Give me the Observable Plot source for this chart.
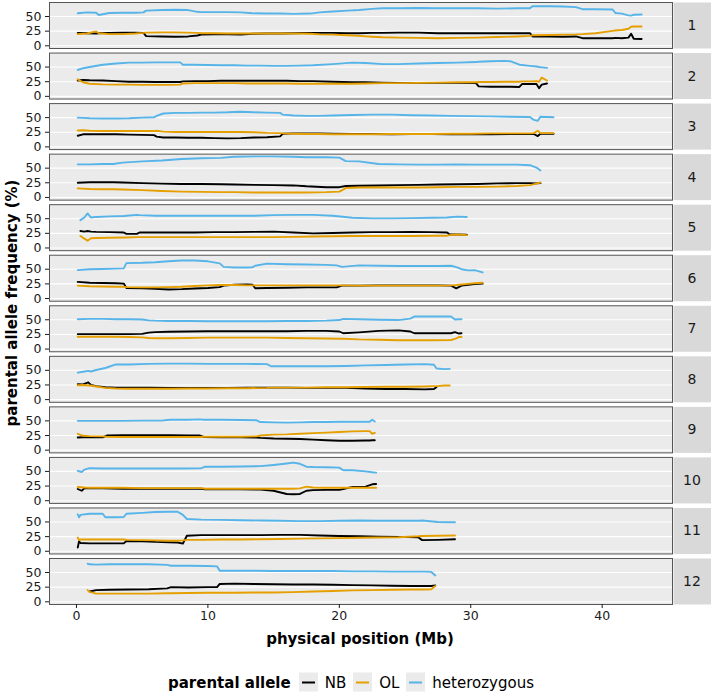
<!DOCTYPE html>
<html>
<head>
<meta charset="utf-8">
<script src="https://cdn.jsdelivr.net/npm/d3@7"></script>
<script src="https://cdn.jsdelivr.net/npm/@observablehq/plot@0.6"></script>
<style>
  html, body { margin: 0; padding: 0; background: #ffffff; }
  #wrap { position: relative; width: 711px; height: 695px; font-family: "DejaVu Sans", sans-serif; color: #1a1a1a; }
  #chart svg { display: block; }
  .ytitle { position: absolute; left: 12px; top: 303px; transform: translate(-50%, -50%) rotate(-90deg); font-weight: bold; font-size: 15px; white-space: nowrap; color: #000; }
  .xtitle { position: absolute; left: 360px; top: 639px; transform: translate(-50%, -50%); font-weight: bold; font-size: 15px; white-space: nowrap; color: #000; }
  .legend { position: absolute; left: 168px; top: 682px; transform: translateY(-50%); display: flex; align-items: center; font-size: 15px; white-space: nowrap; color: #000; }
  .legend .ltitle { font-weight: bold; margin-right: 8px; }
  .legend .key { width: 19px; height: 19px; background: #ebebeb; position: relative; margin-right: 7px; }
  .legend .key span { position: absolute; left: 3px; right: 3px; top: 8.5px; height: 2px; }
  .legend .lab { margin-right: 7px; }
</style>
</head>
<body>
<div id="wrap">
  <div id="chart"></div>
  <div class="ytitle">parental allele frequency (%)</div>
  <div class="xtitle">physical position (Mb)</div>
  <div class="legend" id="legend"></div>
</div>
<script>
// ---------- data ----------
const chromosomes = ["1","2","3","4","5","6","7","8","9","10","11","12"];
const alleles = ["NB", "OL", "heterozygous"];
const alleleColors = ["#000000", "#E69F00", "#56B4E9"];
const legendTitle = "parental allele";
const xTicks = [0, 10, 20, 30, 40];
const yTicks = [0, 25, 50];

const pos1 = [0.1,0.8,1.5,1.7,2.5,3.5,4.5,5.1,5.3,6.5,7.5,8.5,9.2,9.5,10.5,11.5,12.5,13.4,14.5,15.5,16.5,17.8,18.5,19.5,20.6,21.5,22.5,23.3,24.5,26,27.5,29,30.5,32,33.5,34.5,34.7,36,37,38,38.5,39.5,40.8,41,41.5,42,42.2,42.4,43];
const het1 = [55.6,57,56.5,52.5,56,56.5,56.5,57,60,61,61.5,61,58,57.5,57.5,57.5,57,55.5,55,55,54.5,55,57,58.5,60,61,63,64,64,64.5,64,64,64,63.5,64,64,67.5,67.5,67,66,62.5,62.5,62,56,55,52,51.5,53,53.5];
const nb1  = [22,21.5,21,21.5,22,22.5,22.5,22,16.5,16,15.5,16,17.5,19,19.5,19.5,19,20.5,21,21,21.5,22,22,22,21.5,21.5,22,22,22.5,22.5,21.5,21.5,21.5,21.5,21.5,21.5,16,16,15.5,16,13,13,13,13.5,13,14,20.5,12,11.5];
const ol1  = [20,21,24.5,21.5,20,20,21,22,22.5,23,23,22.5,22,21.5,21.5,21,21,21,21,21,21,20.5,19.5,19,18,17,15.5,14.5,14,13.5,13,13.5,14,15,16,17,18,18.5,19,19.5,20,21.5,25.5,26,27,29,32.5,33,33];

const pos2 = [0.1,0.5,1,2,3,4,5,6,7,7.9,8.1,9,10,11,12,13,14,15,16,17,18,19.5,21,22,23.3,24.5,26,27.5,29,30.4,30.6,31.5,32.5,33,33.7,33.9,34.5,35,35.2,35.4,35.8];
const het2 = [45,48,50,54,56,57.5,57.5,58,58,58,54,54,53.5,53,53,52.5,52.5,52,52,52.5,53,55,57.5,57,55,55,56,57,57.5,58.5,59,60,60.5,60,54,53.5,52,51,50,49.5,48.5];
const nb2  = [27,28,27.5,27,26,25,25,24.5,24.5,24.5,25.5,26,26,26.5,26.5,26.5,26.5,26.5,26.5,26,26,25,24,24,23.5,23,23,23,23,22.5,17,16.5,16.5,16.5,16,21,21,21,14,20,22];
const ol2  = [29,24,21.5,20.5,20,20,19.5,19.5,19.5,20,22,22.5,22.5,22.5,22.5,22,22,22,22,21.5,21.5,21.5,21.5,22,22.5,22.5,23,23.5,24,24,24.5,24.5,25,25,25,25.5,25.5,26,25,32,27];

const pos3 = [0.1,0.5,1,2,3,4,5,5.9,6.1,6.6,7.5,8.5,9.5,10.5,11.5,12.5,13.5,14.5,15.5,15.7,16.5,17.5,18.5,19.5,21,22.5,24,25.5,27,28.5,30,31.5,33,34.5,34.8,35.1,35.3,36.3];
const het3 = [50,49.5,49,48.5,48.5,49,50,50.5,53,57,58,58,58.5,58.5,59,60,59,58.5,58,55,53.5,53,53,53.5,54.5,55,55,54,53.5,53,52.5,52,51.5,51,46,44.5,51.5,50.5];
const nb3  = [19,21.5,21.5,21.5,21.5,21,20.5,20,17.5,16,16,15.5,15.5,15,14.5,15,16,16.5,18,22.5,23,23,23,22.5,22,22,21.5,22,22,21.5,21.5,21.5,22,22,22,18.5,22.5,22.5];
const ol3  = [28,28.5,27.5,27,27,27,27,27,27.5,26,25.5,25.5,25.5,25.5,25.5,25.5,25,24,23.5,23,22.5,22,22,21.5,21.5,21.5,22,22,22,22.5,22.5,23,23,23,23.5,27.5,23.5,23.5];

const pos4 = [0.1,1,2,2.8,3.5,5,6.5,8,9.5,11,12,13.5,15,16.5,17.5,19,20,20.5,21.5,23,24.5,26,27.5,29,30.5,32,33.5,34.5,35,35.3];
const het4 = [56.5,56.5,57,57,59.5,61.5,63,65.5,67,67.5,69.5,70,70,69.5,68.5,68.5,68,62,61.5,57,56.5,56,56,56.5,56,56,56,55,51,46];
const nb4  = [25,26,26,26,25.5,24.5,23.5,23,23,22.5,22,21.5,21,20.5,19,17.5,17.5,19.5,20,20.5,21,21.5,22,22.5,23,24,24.5,24.5,24,24.5];
const ol4  = [15.5,14.5,14,14,13.5,12.5,11,10,9.5,9,9,8.5,8.5,8.5,8.5,9,10,16,17,17,17,17,17.5,18,18,18.5,19.5,21,23.5,25.5];

const pos5 = [0.3,0.6,0.85,1.1,1.5,2.5,3.6,3.8,4.6,4.8,6,7.5,9,10.5,12,13.5,15,16.5,18,19.5,21,22.5,24,25.5,27,28.2,28.4,29,29.7];
const het5 = [47.5,52,59,52,53,54,54.5,55,56.5,56,55,55,55,55,55,55,56,56.5,56.5,55,51.5,50.5,50.5,51,51.5,52,52.5,53.5,53];
const nb5  = [29,28,29,28,27.5,27,26.5,24,24,26.5,26.5,26.5,26.5,27,27,27.5,28,26.5,25,25.5,26.5,27,27,27.5,27,26.5,23,23,22.5];
const ol5  = [20.5,16,12.5,16.5,17,17.5,18,18,18.5,18.5,18.5,18.5,18.5,18.5,18.5,18.5,18.5,19,19.5,20,20.5,20.5,20.5,20.5,21,21,22,23,22];

const pos6 = [0.1,1,2,3,3.6,3.8,5,6,7,8,9,10,10.9,11.2,12,13,13.4,13.6,14.5,16,17.5,19,19.8,20.2,21.5,23,24.5,26,27.5,28.5,28.9,29.3,29.8,30.3,30.9];
const het6 = [48.5,50,50.5,51,51.5,60.5,61,62,63.5,65,65,63.5,60,54,53,53,53.5,56,59.5,58.5,58,57.5,56.5,54,56.5,56,55.5,55.5,55.5,56,53.5,50,48,48.5,44.5];
const nb6  = [28.5,27,26.5,26,25.5,18,17.5,16.5,15.5,16,17,18,19.5,22,23.5,24,23.5,17.5,18,18.5,19,19,19,22,22,22.5,22.5,22.5,22.5,22,17.5,22,23.5,24.5,25.5];
const ol6  = [22,21,20.5,20,20,19.5,19,19,19.5,20,21.5,22.5,23,23,23,22.5,22.5,22.5,22.5,22.5,22.5,22.5,22.5,22.5,22,22,22,22,22,22.5,23,24,25,26,27];

const pos7 = [0.1,1,2,3,4,5,5.5,6,7,8.5,10,11.5,13,14.5,16,17.5,19,20,20.3,21.5,23,24.5,25.4,25.7,27,28.5,28.8,29.1,29.3];
const het7 = [51,51.5,51.5,51,51,50.5,49,48.5,48,48,47.5,47.5,47.5,47.5,48,48,48.5,49.5,51.5,51,50,49.5,52,55.5,55.5,55.5,50.5,51,51];
const nb7  = [25.5,25.5,25.5,25.5,25.5,26,28,29,29.5,30,30.5,30.5,30.5,30.5,30.5,31,31,30,27,28.5,31,32,30,27,27,27,29,26.5,27];
const ol7  = [21,21,21,21,20.5,20,19,18.5,18.5,19,19.5,19.5,19.5,19.5,19,18.5,18,17.5,17.5,16.5,16,15,15,15,15,15.5,17.5,20.5,20.5];

const pos8 = [0.1,0.5,0.9,1.1,1.5,2.2,3,4,5.5,7,8.5,10,11.5,13,14.5,14.8,16,17.5,19,20.5,22,23.5,25,26.5,27.2,27.4,28,28.4];
const het8 = [46,47.5,49,48,50.5,54,60,60,61,61.5,61.5,61,61,61,60.5,57,57,57,57,57.5,58.5,59,60,60.5,59.5,53,52,52.5];
const nb8  = [26.5,26,29.5,25,23,21,20.5,20.5,20.5,20,20,20,20,20.5,20.5,20.5,20.5,20,20,20,19,18,18,17.5,18,21.5,null,null];
const ol8  = [24.5,25,24,24,22.5,20,19,18.5,18.5,18.5,19,19,19.5,19.5,20,20.5,20.5,20.5,21,21,21.5,22,22,22.5,23,23,24,24];

const pos9 = [0.1,0.5,1,2,2.3,3.5,5,6.5,6.9,7.2,8.5,9.4,9.7,11,12.5,13.7,14,15,16,17,18,19,20,21,22,22.3,22.5,22.7];
const het9 = [50,50,50,50,50,50,50.5,50.5,51.5,52,52,52.5,52,52,51.5,51,48,47.5,47,47.5,48,48,48.5,48.5,48.5,48.5,52,49];
const nb9  = [21.5,22,22,22,25,25.5,25.5,25.5,25.5,25.5,25,25,22.5,22,22,21.5,21,20,19.5,19,18,17,16,16,16.5,16.5,17,17];
const ol9  = [28,24.5,24,23.5,23,22.5,22.5,22.5,22.5,22.5,22.5,22.5,23,23,23,23.5,25,26.5,27,28,29,30,31,32,32.5,32.5,28,29.5];

const pos10 = [0.1,0.4,0.6,1,2,3.5,5,6.5,8,9.5,9.8,11,12.5,14,15,16,16.5,17,17.5,18,19,20,20.3,21,22,22.5,22.8];
const het10 = [51,49,53,55.5,55,55,55,55,55,55.5,58,58,58.5,59,61,63.5,65,63,58,57.5,57,56.5,52,52,50,48.5,48];
const nb10  = [20,17,21,21,21,20.5,20.5,20.5,20.5,20.5,19.5,19.5,19.5,19,17,11.5,11,11.5,17,18,18.5,18.5,20,23.5,24,28,28.5];
const ol10  = [23.5,23,22.5,22,22,22,21.5,21.5,21.5,21.5,20.5,20.5,20.5,20.5,20.5,20.5,20.5,21,24,22.5,22,22,22,22,22,22,22];

const pos11 = [0.1,0.2,0.3,1,2,2.2,3,3.6,3.8,5,6,7,7.7,8.1,8.4,9.5,11,12.5,14,15.5,17,18.5,20,21.5,23,24.5,26,26.3,27.5,28.8];
const het11 = [63,58,62,64,64,58,58,58.5,64,65.5,67,67.5,67.5,62,55,54,53.5,53,52.5,52,51.5,51.5,52,52.5,52,52,52,52.5,50,49.5];
const nb11  = [6.5,17,14,13.5,13.5,13.5,13.5,13.5,17.5,17,16,15.5,15,13,26.5,27.5,27.5,27.5,27.5,28,28,27,26,25.5,25,24.5,24,19,19.5,20.5];
const ol11  = [23.5,19,20,20,20,20,20,20,19.5,19,18.5,18,18,18.5,19.5,19.5,20,20,20.5,21,21.5,22,22.5,23,23.5,24,25.5,26,26.5,27];

const pos12 = [0.85,1.0,1.5,2.5,4,5.5,6.9,7.2,8.5,10,10.7,10.9,12,13.5,15,16.5,18,19.5,21,22.5,24,25.5,26.5,27,27.3];
const het12 = [65,64,63.5,64,64,64,63,61.5,61.5,61,60.5,53,53,53,52.5,52.5,52.5,52.5,52,52,51.5,51.5,51.5,51,45];
const nb12  = [null,17.5,20,20.5,21,21.5,23,25,24.5,25,25,30.5,31,30.5,30,29.5,29.5,29,28.5,28,27.5,27,27,27,28];
const ol12  = [20,17,14,14,14,14,14.5,14.5,15,15.5,15.5,15.5,15.5,16,16,16.5,17.5,18.5,19.5,20,20.5,21,21,21.5,27];

// ---------- table built from the arrays ----------
const positions = [pos1,pos2,pos3,pos4,pos5,pos6,pos7,pos8,pos9,pos10,pos11,pos12];
const nbSeries  = [nb1,nb2,nb3,nb4,nb5,nb6,nb7,nb8,nb9,nb10,nb11,nb12];
const olSeries  = [ol1,ol2,ol3,ol4,ol5,ol6,ol7,ol8,ol9,ol10,ol11,ol12];
const hetSeries = [het1,het2,het3,het4,het5,het6,het7,het8,het9,het10,het11,het12];

const rows = [];
chromosomes.forEach((chr, i) => {
  const series = [nbSeries[i], olSeries[i], hetSeries[i]];
  series.forEach((vals, s) => {
    positions[i].forEach((p, j) => {
      rows.push({chr, pos: p, allele: alleles[s], freq: vals[j]});
    });
  });
});

// ---------- plot ----------
const W = 711, H = 655;
const mL = 49, mR = 39, mT = 2, mB = 51;
const panelW = W - mL - mR;

const chart = Plot.plot({
  width: W,
  height: H,
  marginTop: mT,
  marginBottom: mB,
  marginLeft: mL,
  marginRight: mR,
  style: {fontFamily: "DejaVu Sans, sans-serif", fontSize: "12.5px", background: "transparent", color: "#1a1a1a"},
  x: {domain: [-2.05, 45.35]},
  y: {domain: [-4.6, 73.9]},
  fy: {domain: chromosomes, paddingInner: 0.09, paddingOuter: 0, round: false, axis: null},
  color: {domain: alleles, range: alleleColors},
  marks: [
    Plot.frame({fill: "#ebebeb", stroke: null}),
    Plot.frame({fill: "#d9d9d9", stroke: null, insetLeft: panelW + 1, insetRight: -mR}),
    Plot.gridY(yTicks, {stroke: "#ffffff", strokeOpacity: 1, strokeWidth: 1.1}),
    Plot.line(rows, {x: "pos", y: "freq", z: "allele", stroke: "allele", fy: "chr", strokeWidth: 1.9}),
    Plot.frame({stroke: "#555555", strokeWidth: 1}),
    Plot.axisY({ticks: yTicks, tickSize: 4, tickPadding: 4, label: null, fontSize: 12.5}),
    Plot.axisX({ticks: xTicks, tickSize: 4, tickPadding: 3, label: null, fontSize: 12.5}),
    Plot.text(chromosomes, {fy: d => d, text: d => d, frameAnchor: "right", dx: mR / 2, textAnchor: "middle", fontSize: 14, fill: "#1a1a1a"})
  ]
});
document.getElementById("chart").appendChild(chart);

// ---------- legend ----------
const legend = document.getElementById("legend");
const t = document.createElement("span");
t.className = "ltitle";
t.textContent = legendTitle;
legend.appendChild(t);
alleles.forEach((a, i) => {
  const k = document.createElement("div");
  k.className = "key";
  const ln = document.createElement("span");
  ln.style.background = alleleColors[i];
  k.appendChild(ln);
  legend.appendChild(k);
  const l = document.createElement("span");
  l.className = "lab";
  l.textContent = a;
  legend.appendChild(l);
});
</script>
</body>
</html>
